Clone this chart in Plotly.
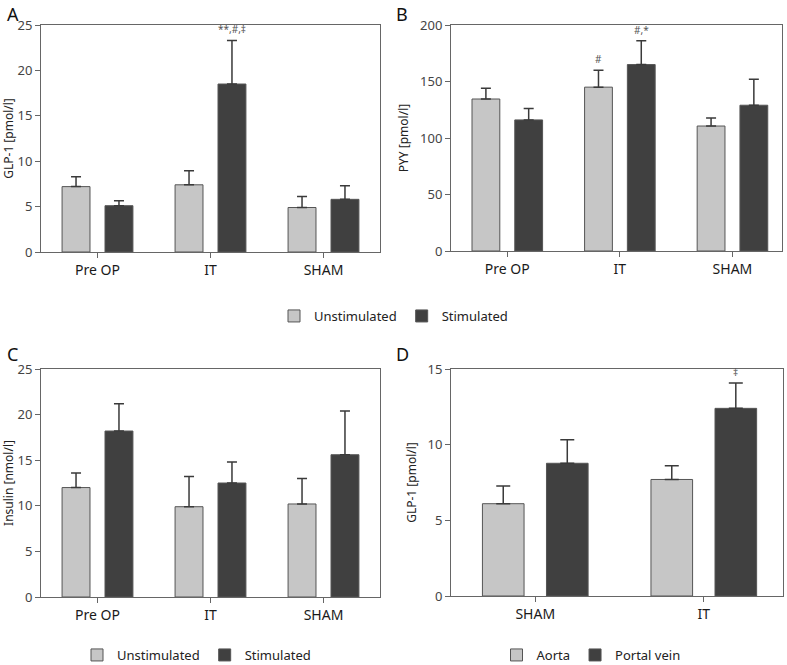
import plotly.graph_objects as go

# ---------------- data ----------------
groups3 = ["Pre OP", "IT", "SHAM"]
groups_d = ["SHAM", "IT"]

glp1_unstim = [7.2, 7.4, 4.9]
glp1_unstim_se = [1.1, 1.55, 1.2]
glp1_stim = [5.1, 18.5, 5.8]
glp1_stim_se = [0.55, 4.8, 1.5]

pyy_unstim = [134.5, 145.0, 110.6]
pyy_unstim_se = [9.5, 15.0, 7.1]
pyy_stim = [116.0, 165.0, 129.0]
pyy_stim_se = [10.0, 21.0, 23.0]

ins_unstim = [12.0, 9.9, 10.2]
ins_unstim_se = [1.6, 3.3, 2.8]
ins_stim = [18.2, 12.5, 15.6]
ins_stim_se = [3.0, 2.3, 4.8]

glp1d_aorta = [6.1, 7.7]
glp1d_aorta_se = [1.17, 0.91]
glp1d_portal = [8.77, 12.4]
glp1d_portal_se = [1.56, 1.67]

# ---------------- style ----------------
LIGHT = "#c6c6c6"
DARK = "#404040"
EDGE = "#555555"
FONT = "Noto Sans"
W, H = 787, 665

fig = go.Figure()


def add_bar(name, x, y, se, color, xa, ya, legend, show, capw):
    fig.add_trace(go.Bar(
        name=name, x=x, y=y,
        marker=dict(color=color, line=dict(color=EDGE, width=1)),
        error_y=dict(type="data", symmetric=False, array=se,
                     arrayminus=[0] * len(se), color="#3a3a3a",
                     thickness=1.5, width=capw),
        xaxis=xa, yaxis=ya, legend=legend, showlegend=show,
    ))


add_bar("Unstimulated", groups3, glp1_unstim, glp1_unstim_se, LIGHT, "x", "y", "legend", True, 5)
add_bar("Stimulated", groups3, glp1_stim, glp1_stim_se, DARK, "x", "y", "legend", True, 5)
add_bar("Unstimulated", groups3, pyy_unstim, pyy_unstim_se, LIGHT, "x2", "y2", "legend", False, 5)
add_bar("Stimulated", groups3, pyy_stim, pyy_stim_se, DARK, "x2", "y2", "legend", False, 5)
add_bar("Unstimulated", groups3, ins_unstim, ins_unstim_se, LIGHT, "x3", "y3", "legend2", True, 5)
add_bar("Stimulated", groups3, ins_stim, ins_stim_se, DARK, "x3", "y3", "legend2", True, 5)
add_bar("Aorta", groups_d, glp1d_aorta, glp1d_aorta_se, LIGHT, "x4", "y4", "legend3", True, 7)
add_bar("Portal vein", groups_d, glp1d_portal, glp1d_portal_se, DARK, "x4", "y4", "legend3", True, 7)


def px_x(a, b):
    return [a / W, b / W]


def px_y(top, bottom):
    return [1 - bottom / H, 1 - top / H]


xcommon = dict(showline=True, linecolor="#666666", linewidth=1, mirror=True,
               ticks="outside", ticklen=5, tickcolor="#666666",
               showgrid=False, zeroline=False, automargin=False,
               tickfont=dict(family=FONT, size=14, color="#1a1a1a"))
ycommon = dict(showline=True, linecolor="#666666", linewidth=1, mirror=True,
               ticks="outside", ticklen=5, tickcolor="#666666",
               showgrid=False, zeroline=False, automargin=False,
               tickfont=dict(family=FONT, size=13, color="#444444"),
               title_font=dict(family=FONT, size=12, color="#222222"),
               title_standoff=8)

leg_font = dict(family=FONT, size=13, color="#222222")

layout = dict(
    width=W, height=H,
    margin=dict(l=0, r=0, t=0, b=0, autoexpand=False),
    paper_bgcolor="white", plot_bgcolor="white",
    barmode="group", bargap=0.24, bargroupgap=0.35,
    font=dict(family=FONT, color="#222222"),
    xaxis=dict(domain=px_x(41, 380), anchor="y", range=[-0.5, 2.5], **xcommon),
    yaxis=dict(domain=px_y(25, 252), anchor="x", range=[0, 25], dtick=5,
               title_text="GLP-1 [pmol/l]", **ycommon),
    xaxis2=dict(domain=px_x(451, 782), anchor="y2", range=[-0.5, 2.44], **xcommon),
    yaxis2=dict(domain=px_y(25, 251), anchor="x2", range=[0, 200], dtick=50,
                title_text="PYY [pmol/l]", **ycommon),
    xaxis3=dict(domain=px_x(41, 380), anchor="y3", range=[-0.5, 2.5], **xcommon),
    yaxis3=dict(domain=px_y(369, 597), anchor="x3", range=[0, 25], dtick=5,
                title_text="Insulin [nmol/l]", **ycommon),
    xaxis4=dict(domain=px_x(451, 783), anchor="y4", range=[-0.5, 1.47], **xcommon),
    yaxis4=dict(domain=px_y(369, 596), anchor="x4", range=[0, 15], dtick=5,
                title_text="GLP-1 [pmol/l]", **ycommon),
    legend=dict(orientation="h", x=0.5, y=1 - 316 / H, xanchor="center", yanchor="middle",
                font=leg_font, itemwidth=30, bgcolor="rgba(0,0,0,0)"),
    legend2=dict(orientation="h", x=(103 + 290) / 2 / W, y=1 - 655 / H, xanchor="center",
                 yanchor="middle", font=leg_font, itemwidth=30, bgcolor="rgba(0,0,0,0)"),
    legend3=dict(orientation="h", x=(513 + 669) / 2 / W, y=1 - 655 / H, xanchor="center",
                 yanchor="middle", font=leg_font, itemwidth=30, bgcolor="rgba(0,0,0,0)"),
)
fig.update_layout(**layout)

# panel letters
for letter, xp, yp in [("A", 5, 0), ("B", 394, 0), ("C", 5, 340), ("D", 394, 340)]:
    fig.add_annotation(text=letter, xref="paper", yref="paper", x=xp / W, y=1 - yp / H,
                       xanchor="left", yanchor="top", showarrow=False,
                       font=dict(family=FONT, size=18, color="#111111"))

# significance marks placed above error bars
ann_font = dict(family=FONT, size=10, color="#555555")
idx_it = groups3.index("IT")
idx_itd = groups_d.index("IT")
marks = [
    ("x", "y", "IT", glp1_stim[idx_it] + glp1_stim_se[idx_it], "**,#,‡", 21.5),
    ("x2", "y2", "IT", pyy_unstim[idx_it] + pyy_unstim_se[idx_it], "#", -21.5),
    ("x2", "y2", "IT", pyy_stim[idx_it] + pyy_stim_se[idx_it], "#,*", 21.5),
    ("x4", "y4", "IT", glp1d_portal[idx_itd] + glp1d_portal_se[idx_itd], "‡", 32),
]
for xa, ya, xc, yv, txt, shift in marks:
    fig.add_annotation(text=txt, xref=xa, yref=ya, x=xc, y=yv, xshift=shift, yshift=2,
                       xanchor="center", yanchor="bottom", showarrow=False, font=ann_font)

fig.write_html(
    "out.html",
    config={"displayModeBar": False},
    post_script="document.body.style.margin='0px';document.body.style.overflow='hidden';",
)
